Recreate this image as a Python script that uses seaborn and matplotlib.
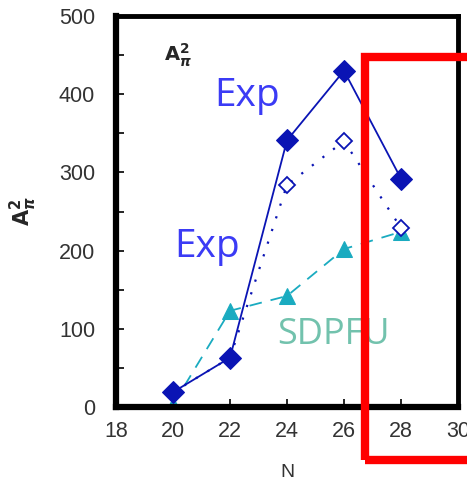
import matplotlib
matplotlib.use("Agg")
import matplotlib.pyplot as plt
import matplotlib.patches as mpatches
import seaborn as sns
import pandas as pd

# Neutron number and transition strengths
N = [20, 22, 24, 26, 28]
exp_solid = [19, 63, 341, 430, 292]
exp_open = [19, 63, 284, 340, 229]
sdpfu = [3, 123, 142, 202, 224]

x_ticks = [18, 20, 22, 24, 26, 28, 30]
y_ticks = [0, 100, 200, 300, 400, 500]

df = pd.DataFrame({"N": N, "solid": exp_solid, "open": exp_open, "sdpfu": sdpfu})

sns.set_style("white")
plt.rcParams["font.family"] = ["Liberation Sans", "DejaVu Sans"]

fig = plt.figure(figsize=(4.67, 4.86), dpi=100)
ax = fig.add_axes([116 / 467, 1 - 407 / 486, (458 - 116) / 467, (407 - 16) / 486])

dark_blue = "#0a14b4"
teal = "#1aabc0"

sns.lineplot(data=df, x="N", y="sdpfu", ax=ax, color=teal, lw=1.3,
             linestyle=(0, (7, 5)), marker="^", markersize=12,
             markeredgecolor=teal, markerfacecolor=teal, zorder=2)
sns.lineplot(data=df, x="N", y="open", ax=ax, color=dark_blue, lw=1.6,
             linestyle=(0, (1, 5)), marker="D", markersize=8,
             markerfacecolor="white", markeredgecolor=dark_blue,
             markeredgewidth=1.3, zorder=3)
sns.lineplot(data=df, x="N", y="solid", ax=ax, color=dark_blue, lw=1.3,
             marker="D", markersize=11, markeredgecolor=dark_blue,
             markerfacecolor=dark_blue, zorder=4)

ax.set_xlim(18, 30)
ax.set_ylim(0, 500)
ax.set_xticks(x_ticks)
ax.set_yticks(y_ticks)
ax.set_yticks([50, 150, 250, 350, 450], minor=True)
ax.tick_params(axis="both", which="both", direction="in", length=6, width=1.2,
               bottom=True, left=True, top=False, right=False,
               colors="black", labelcolor="#333333", labelsize=15.5)
ax.tick_params(axis="y", pad=15)
ax.tick_params(axis="x", pad=10)
for side, w in [("left", 4.5), ("bottom", 4.5), ("top", 3.5), ("right", 3.5)]:
    ax.spines[side].set_visible(True)
    ax.spines[side].set_color("black")
    ax.spines[side].set_linewidth(w)

ax.set_xlabel("N", fontsize=14, color="#333333", labelpad=16)
ax.set_ylabel(r"$\mathbf{A}_{\boldsymbol{\pi}}^{\mathbf{2}}$", fontsize=15,
              labelpad=14)

ax.text(0.14, 0.90, r"$\mathbf{A}_{\boldsymbol{\pi}}^{\mathbf{2}}$",
        transform=ax.transAxes, fontsize=14, ha="left", va="center")

ax.text(21.45, 398, "Exp", color="#3b3bf5", fontsize=28, ha="left",
        va="center", family=["Open Sans", "DejaVu Sans"])
ax.text(20.05, 205, "Exp", color="#3b3bf5", fontsize=28, ha="left",
        va="center", family=["Open Sans", "DejaVu Sans"])
ax.text(23.65, 92, "SDPFU", color="#72c2ad", fontsize=26, ha="left",
        va="center", family=["Open Sans", "DejaVu Sans"])

# Highlight frame around the N = 28 region
rect = mpatches.Rectangle((365, 486 - 460), 120, 403, transform=None,
                          fill=False, edgecolor="#ff0000", linewidth=6,
                          zorder=10)
fig.patches.append(rect)

fig.savefig("out.png", dpi=100)
